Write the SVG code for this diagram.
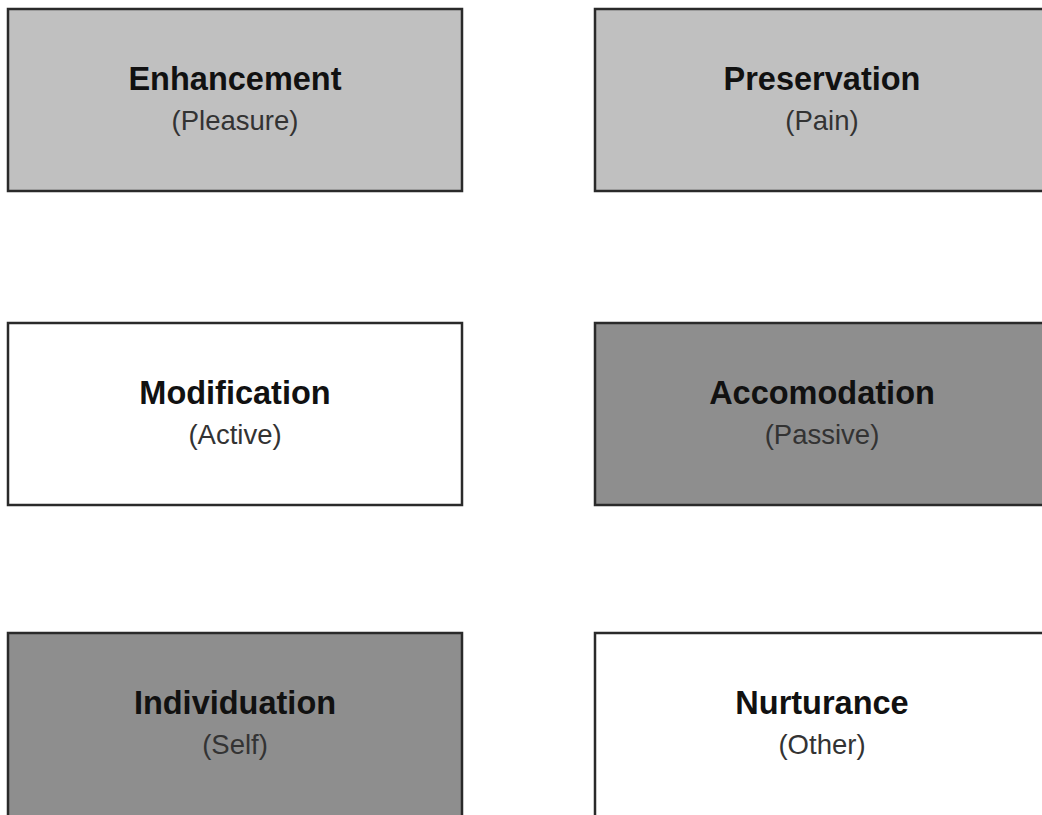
<svg xmlns="http://www.w3.org/2000/svg" width="1042" height="815" viewBox="0 0 1042 815">
<style>
.box{stroke:#2a2a2a;stroke-width:2.5}
.light{fill:#c0c0c0}
.dark{fill:#8e8e8e}
.white{fill:#ffffff}
.t{font-family:"Liberation Sans",Arial,sans-serif;font-weight:bold;font-size:32.5px;fill:#111;text-anchor:middle}
.s{font-family:"Liberation Sans",Arial,sans-serif;font-size:27.5px;fill:#333;text-anchor:middle}
</style>
<rect width="1042" height="815" fill="#ffffff"/>
<g id="enhancement">
<rect class="box light" x="8" y="9" width="454" height="182"/>
<text class="t" x="235" y="90">Enhancement</text>
<text class="s" x="235" y="130">(Pleasure)</text>
</g>
<g id="preservation">
<rect class="box light" x="595" y="9" width="454" height="182"/>
<text class="t" x="822" y="90">Preservation</text>
<text class="s" x="822" y="130">(Pain)</text>
</g>
<g id="modification">
<rect class="box white" x="8" y="323" width="454" height="182"/>
<text class="t" x="235" y="404">Modification</text>
<text class="s" x="235" y="444">(Active)</text>
</g>
<g id="accomodation">
<rect class="box dark" x="595" y="323" width="454" height="182"/>
<text class="t" x="822" y="404">Accomodation</text>
<text class="s" x="822" y="444">(Passive)</text>
</g>
<g id="individuation">
<rect class="box dark" x="8" y="633" width="454" height="190"/>
<text class="t" x="235" y="714">Individuation</text>
<text class="s" x="235" y="754">(Self)</text>
</g>
<g id="nurturance">
<rect class="box white" x="595" y="633" width="454" height="190"/>
<text class="t" x="822" y="714">Nurturance</text>
<text class="s" x="822" y="754">(Other)</text>
</g>
<g id="connectors"></g>
</svg>
